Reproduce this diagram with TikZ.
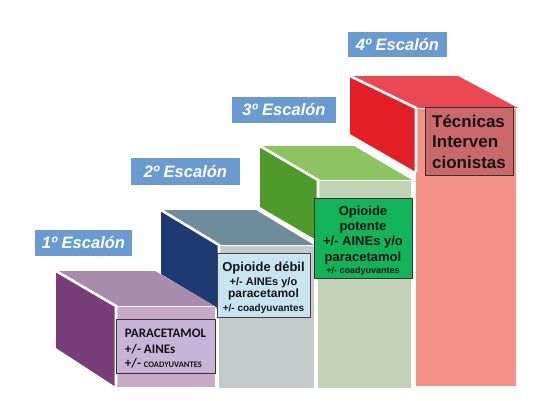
\documentclass[tikz,border=0pt]{standalone}
\usepackage{fontspec}
\setmainfont{Liberation Sans}
\newfontfamily\carl{Carlito}
\definecolor{sAside}{HTML}{783E78}\definecolor{sAtop}{HTML}{A98BAB}\definecolor{sAfront}{HTML}{C6AAC8}\definecolor{bA}{HTML}{C6B5D8}
\definecolor{sBside}{HTML}{1E3A72}\definecolor{sBtop}{HTML}{6F8C9C}\definecolor{sBfront}{HTML}{C5CACB}\definecolor{bB}{HTML}{C8E4EF}
\definecolor{sCside}{HTML}{4E9B2C}\definecolor{sCtop}{HTML}{8DC461}\definecolor{sCfront}{HTML}{C3D3B6}\definecolor{bC}{HTML}{13B35A}
\definecolor{sDside}{HTML}{E31E26}\definecolor{sDtop}{HTML}{EC4852}\definecolor{sDfront}{HTML}{F39189}\definecolor{bD}{HTML}{C9696A}
\definecolor{lblue}{HTML}{6A9BD0}
\definecolor{ink}{HTML}{151515}
\tikzset{
  sep/.style={draw=white, line width=2.6pt},
  thinsep/.style={draw=white, line width=1pt},
  lbl/.style={fill=lblue, text=white, inner sep=0pt, font=\fontsize{16.5}{18}\selectfont\bfseries\itshape},
  tbox/.style={draw=#1, line width=0.9pt, inner sep=0pt, text=ink, text depth=0pt},
}
\begin{document}
\begin{tikzpicture}[x=1pt,y=-1pt]
\useasboundingbox (0,0) rectangle (550,400);
% ---- step 4
\fill[sDside] (350,76) -- (416,108) -- (416,172) -- (350,134) -- cycle;
\fill[sDtop] (350,76) -- (458,76) -- (518,108) -- (416,108) -- cycle;
\fill[sDfront] (416,108) rectangle (516,386);
\draw[sep] (350,76) -- (416,108) -- (416,172);
\draw[thinsep] (416,108) -- (518,108);
% ---- step 3
\fill[sCside] (260,146) -- (318,180) -- (318,241) -- (260,207) -- cycle;
\fill[sCtop] (260,146) -- (354,146) -- (412,180) -- (318,180) -- cycle;
\fill[sCfront] (318,180) rectangle (411,388);
\draw[sep] (260,146) -- (318,180) -- (318,241);
\draw[thinsep] (318,180) -- (412,180);
% ---- step 2
\fill[sBside] (161,210) -- (219,245) -- (219,309) -- (161,274) -- cycle;
\fill[sBtop] (161,210) -- (256,210) -- (314,245) -- (219,245) -- cycle;
\fill[sBfront] (219,245) rectangle (314,388);
\draw[sep] (161,210) -- (219,245) -- (219,309);
\draw[thinsep] (219,245) -- (314,245);
% ---- step 1
\fill[sAside] (56,271) -- (116,306) -- (116,387) -- (56,348) -- cycle;
\fill[sAtop] (56,271) -- (155,271) -- (215,306) -- (116,306) -- cycle;
\fill[sAfront] (116,306) rectangle (215,387);
\draw[sep] (56,271) -- (116,306) -- (116,387);
\draw[thinsep] (116,306) -- (215,306);
% ---- labels
\node[lbl, minimum width=97pt, minimum height=26pt] (l1) at (83.5,243) {1º Escalón};
\node[lbl, minimum width=109pt, minimum height=27pt] (l2) at (185.5,171.5) {2º Escalón};
\node[lbl, minimum width=104pt, minimum height=26pt] (l3) at (284,110) {3º Escalón};
\node[lbl, minimum width=99pt, minimum height=25pt] (l4) at (397.5,44.5) {4º Escalón};
% ---- text boxes
\node[tbox=black!80, fill=bA, minimum width=99pt, minimum height=54pt, align=left, text height=42pt,
      font=\carl\bfseries\fontsize{13}{16}\selectfont] (b1) at (165.5,346)
  {PARACETAMOL\\ +/- AINEs\\[-2pt] +/- {\fontsize{8.5}{10}\selectfont COADYUVANTES}};
\node[tbox=black!75, fill=bB, minimum width=93pt, minimum height=64pt, align=center, text height=52pt,
      font=\bfseries\fontsize{11}{14}\selectfont] (b2) at (263.5,285)
  {{\fontsize{13}{14}\selectfont Opioide débil}\\ +/- AINEs y/o\\[-2pt] {\fontsize{12}{14}\selectfont paracetamol}\\ {\fontsize{10}{14}\selectfont +/- coadyuvantes}};
\node[tbox=black!80, fill=bC, minimum width=98pt, minimum height=80pt, align=center, text height=70pt,
      font=\bfseries\fontsize{13}{15.3}\selectfont] (b3) at (363,238)
  {Opioide\\ potente\\ +/- AINEs y/o\\ paracetamol\\[-3.3pt] {\fontsize{9}{11}\selectfont +/- coadyuvantes}};
\node[tbox=black!80, fill=bD, minimum width=88pt, minimum height=68pt, align=left, text height=54pt,
      font=\bfseries\fontsize{17}{20.3}\selectfont] (b4) at (469,141)
  {Técnicas\\ Interven\\ cionistas};
\end{tikzpicture}
\end{document}
